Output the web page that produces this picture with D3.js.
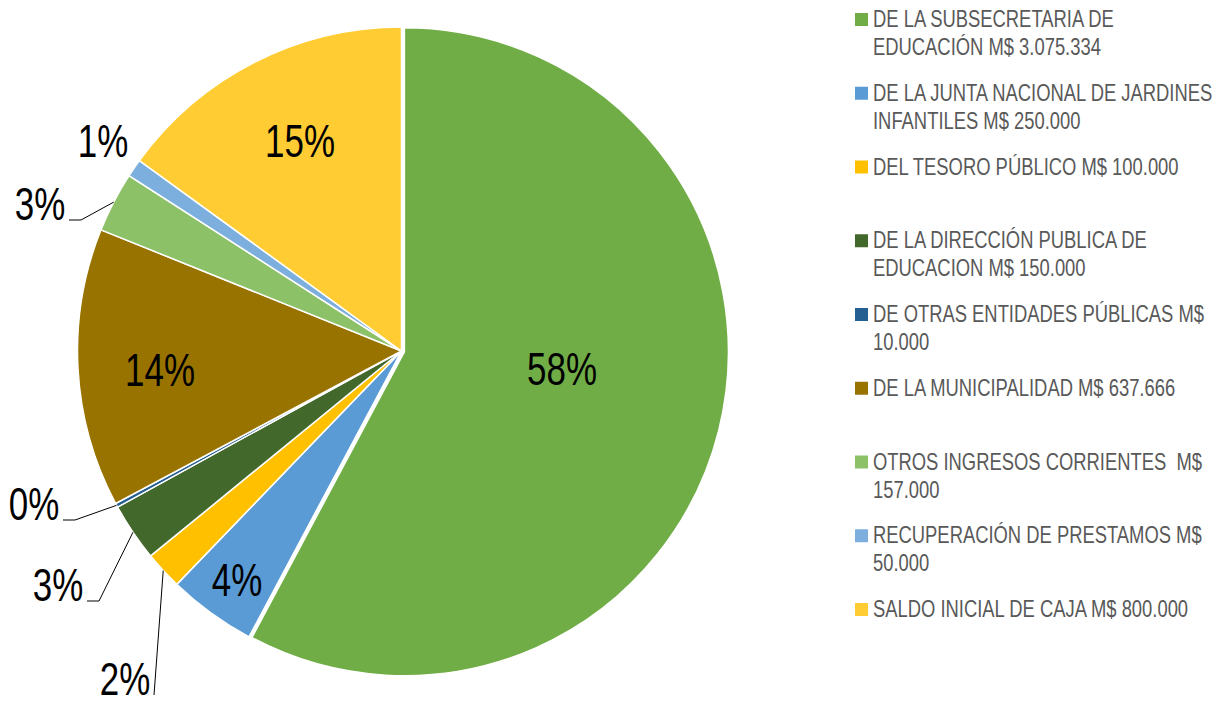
<!DOCTYPE html>
<html>
<head>
    <meta charset="utf-8">
    <style>
        body {
            margin: 0;
            padding: 0;
            background: #fff;
        }
        svg text {
            font-family: "Liberation Sans Narrow", "Arial Narrow", "Liberation Sans", sans-serif;
        }
        .legend text {
            fill: #595959;
            font-size: 23px;
            white-space: pre;
        }
        .pct {
            fill: #000;
            font-size: 46px;
        }
    </style>
    <script src="https://cdnjs.cloudflare.com/ajax/libs/d3/7.8.5/d3.min.js"></script>
</head>
<body>
<div id="chart"></div>
<script>
    // share of each source, in % of the total
    var shares = [57.8, 4.4, 1.9, 2.9, 0.2, 13.9, 3.0, 0.9, 15.0];

    var legendLines = [
        ["DE LA SUBSECRETARIA DE", "EDUCACIÓN M$ 3.075.334"],
        ["DE LA JUNTA NACIONAL DE JARDINES", "INFANTILES M$ 250.000"],
        ["DEL TESORO PÚBLICO M$ 100.000"],
        ["DE LA DIRECCIÓN PUBLICA DE", "EDUCACION M$ 150.000"],
        ["DE OTRAS ENTIDADES PÚBLICAS M$", "10.000"],
        ["DE LA MUNICIPALIDAD M$ 637.666"],
        ["OTROS INGRESOS CORRIENTES  M$", "157.000"],
        ["RECUPERACIÓN DE PRESTAMOS M$", "50.000"],
        ["SALDO INICIAL DE CAJA M$ 800.000"]
    ];

    var colors = ["#70AD47", "#5B9BD5", "#FFC000", "#43682B", "#255E91",
                  "#997300", "#8CC168", "#7CAFDD", "#FFCD33"];

    // where each percentage label sits (centre), and whether it has a leader line
    var labelPos = [
        {x: 562, y: 368, leader: null},
        {x: 237, y: 579, leader: null},
        {x: 125, y: 678, leader: 0},
        {x: 58,  y: 584, leader: 12},
        {x: 34,  y: 503, leader: 12},
        {x: 160, y: 369, leader: null},
        {x: 40,  y: 203, leader: 12},
        {x: 103, y: 140, leader: null},
        {x: 300, y: 140, leader: null}
    ];

    var W = 1223, H = 704;
    var cx = 401.5, cy = 351, R = 324;
    var explode = 3;    // first slice is pulled out a bit
    var sxPct = 0.76;   // horizontal squeeze of the narrow font
    var sxLeg = 0.80;

    var svg = d3.select("#chart").append("svg")
        .attr("width", W)
        .attr("height", H);

    var pie = d3.pie().sort(null).value(function(d) { return d; });
    var arcs = pie(shares);
    var arc = d3.arc().innerRadius(0).outerRadius(R);
    var total = d3.sum(shares);
    var fmt = d3.format(".0%");

    var g = svg.append("g")
        .attr("transform", "translate(" + cx + "," + cy + ")");

    g.selectAll("path.slice")
        .data(arcs)
        .enter().append("path")
        .attr("class", "slice")
        .attr("d", arc)
        .attr("fill", function(d, i) { return colors[i]; })
        .attr("stroke", "#fff")
        .attr("stroke-width", 1.5)
        .attr("transform", function(d, i) {
            if (i !== 0) return null;
            var a = (d.startAngle + d.endAngle) / 2;
            return "translate(" + (Math.sin(a) * explode) + "," + (-Math.cos(a) * explode) + ")";
        });

    // leader lines
    arcs.forEach(function(d, i) {
        var p = labelPos[i];
        if (p.leader === null) return;
        var a = (d.startAngle + d.endAngle) / 2;
        var x0 = cx + Math.sin(a) * R, y0 = cy - Math.cos(a) * R;
        var yb = p.y + 17;
        var pts = [[x0, y0], [p.x + 29 + p.leader, yb], [p.x + 29, yb]];
        svg.append("path")
            .attr("d", d3.line()(pts))
            .attr("fill", "none")
            .attr("stroke", "#000")
            .attr("stroke-width", 1);
    });

    // percentage labels
    svg.selectAll("text.pct")
        .data(arcs)
        .enter().append("text")
        .attr("class", "pct")
        .attr("text-anchor", "middle")
        .attr("transform", function(d, i) {
            return "translate(" + labelPos[i].x + "," + (labelPos[i].y + 17) + ") scale(" + sxPct + ",1)";
        })
        .text(function(d) { return fmt(d.data / total); });

    // legend
    var legend = svg.append("g").attr("class", "legend");
    var step = 73.75;
    legendLines.forEach(function(lines, i) {
        var base = 27 + i * step;
        legend.append("rect")
            .attr("x", 855)
            .attr("y", base - 14)
            .attr("width", 13)
            .attr("height", 13)
            .attr("fill", colors[i]);
        lines.forEach(function(t, j) {
            legend.append("text")
                .attr("transform", "translate(873," + (base + j * 28) + ") scale(" + sxLeg + ",1)")
                .text(t);
        });
    });
</script>
</body>
</html>
